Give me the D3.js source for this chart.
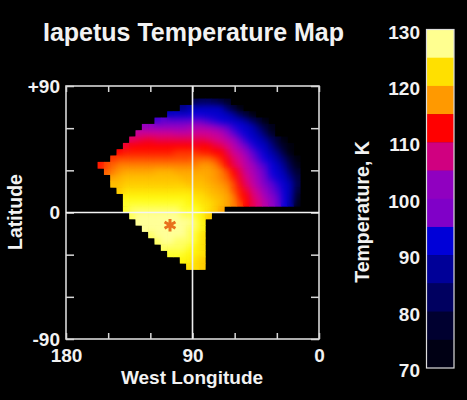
<!DOCTYPE html>
<html>
<head>
<meta charset="utf-8">
<style>
	html, body { margin: 0; background: #000; }
	svg { display: block; }
	text { font-family: "Liberation Sans", Arial, sans-serif; font-weight: bold; fill: #f2f2f2; }
</style>
<script src="https://cdn.jsdelivr.net/npm/d3@7/dist/d3.min.js"></script>
</head>
<body>
<script>
/*=================================
	DATA
**===============================*/

var title = "Iapetus Temperature Map";
var lonTicks = [180, 150, 120, 90, 60, 30, 0];
var lonLabels = [180, 90, 0];
var latTicks = [90, 60, 30, 0, -30, -60, -90];
var latLabels = [90, 0, -90];
var tempTicks = [130, 120, 110, 100, 90, 80, 70];

//Star marker
var starLon = [106];
var starLat = [-9];

//Colour bar, one band per 5 K
var bandLow = [125, 120, 115, 110, 105, 100, 95, 90, 85, 80, 75, 70];
var bandColors = ["#ffff90", "#ffe000", "#ff9900", "#ff0000", "#d00080", "#9000c0", "#8000c8", "#0000d8", "#000098", "#000060", "#000030", "#000014"];

//Map colours (smooth, same palette)
var mapStops = [71, 75, 80, 85, 90, 95, 98, 102.5, 107.5, 113, 119, 123, 125.5, 128];
var mapColors = ["#000000", "#000030", "#000058", "#000088", "#0000c0", "#0c00dc", "#6000d0", "#9c00c0", "#d40090", "#ff0000", "#ff9900", "#ffcc00", "#ffff10", "#ffff98"];

//Grid cells are 4.5 deg. Each row: its top latitude, the west longitude of its first cell, then temperatures going east
var cellDeg = 4.5;
var rowTopLat = [81, 76.5, 72, 67.5, 63, 58.5, 54, 49.5, 45, 40.5, 36, 31.5, 27, 22.5, 18, 13.5, 9, 4.5, 0, -4.5, -9, -13.5, -18, -22.5, -27, -31.5, -36];
var rowFirstLon = [90, 99, 108, 117, 126, 130.5, 135, 139.5, 144, 148.5, 157.5, 153, 148.5, 148.5, 144, 139.5, 139.5, 139.5, 135, 130.5, 126, 121.5, 117, 112.5, 108, 99, 94.5];
var rowTemps = [
	[78, 80, 80, 78, 76, 74],
	[85, 88, 90, 91, 91, 91, 90, 82, 75, 72],
	[90, 91, 92, 93, 95, 94, 93, 92, 91, 90, 87, 80, 75, 72],
	[97, 98, 98, 98, 98, 98, 99, 98, 97, 96, 95, 93, 91, 90, 87, 81, 75, 72],
	[102, 102, 102, 102, 102, 102, 102, 103, 104, 104, 103, 102, 100, 98, 96, 94, 92, 89, 83, 77, 73],
	[106, 107, 107, 107, 107, 107, 106, 106, 106, 107, 107, 107, 106, 105, 102, 98, 96, 93, 90, 87, 81, 74],
	[109, 110, 111, 111, 110, 110, 110, 110, 110, 110, 110, 110, 109, 108, 107, 105, 103, 99, 96, 93, 90, 87, 81, 75, 72],
	[111, 113, 113, 113, 113, 113, 113, 113, 113, 113, 113, 112, 113, 113, 111, 110, 108, 105, 102, 99, 96, 92, 90, 85, 78, 74, 72],
	[113, 114, 114, 114, 114, 114, 114, 114, 114, 115, 115, 115, 115, 114, 114, 113, 113, 110, 107, 105, 102, 98, 96, 92, 88, 84, 76, 72],
	[115, 116, 116, 116, 116, 116, 116, 116, 116, 116, 116, 116, 116, 117, 117, 117, 116, 114, 112, 109, 107, 104, 100, 97, 95, 91, 87, 82, 75, 72],
	[114, 116, 117, 118, 118, 118, 118, 118, 118, 118, 118, 118, 118, 118, 118, 118, 119, 119, 118, 116, 113, 110, 108, 105, 103, 99, 97, 94, 90, 85, 78, 73],
	[117, 118, 119, 120, 120, 120, 120, 120, 121, 121, 121, 120, 120, 120, 120, 120, 120, 119, 118, 116, 113, 110, 106, 104, 101, 98, 95, 92, 88, 81, 75],
	[120, 121, 122, 122, 122, 122, 122, 122, 122, 122, 122, 121, 121, 121, 121, 120, 119, 118, 117, 114, 111, 108, 105, 102, 99, 96, 93, 90, 85, 77],
	[122, 122, 123, 123, 123, 123, 123, 123, 123, 123, 123, 123, 122, 122, 122, 121, 120, 119, 118, 116, 112, 109, 106, 103, 100, 98, 96, 92, 89, 78],
	[123, 124, 124, 124, 124, 124, 124, 124, 124, 124, 124, 124, 123, 123, 122, 121, 120, 119, 116, 114, 111, 108, 105, 102, 99, 97, 93, 89, 76],
	[125, 125, 125, 125, 125, 125, 125, 125, 125, 125, 125, 124, 124, 123, 122, 121, 120, 118, 114, 113, 109, 107, 103, 101, 98, 94, 89, 74],
	[126, 126, 126, 126, 126, 126, 126, 126, 126, 126, 125, 125, 124, 124, 123, 122, 120, 118, 116, 113, 110, 108, 105, 102, 99, 95, 88, 73],
	[126, 127, 127, 127, 127, 127, 127, 127, 127, 126, 126, 126, 125, 124, 123, 120],
	[127, 128, 128, 128, 128, 128, 128, 128, 127, 127, 126, 125, 123],
	[128, 128, 128, 128, 128, 128, 128, 128, 128, 127, 125],
	[128, 128, 128, 128, 128, 128, 128, 127, 127, 125],
	[127, 128, 128, 128, 128, 128, 127, 126, 124],
	[127, 128, 128, 127, 127, 127, 126, 124],
	[127, 127, 127, 127, 126, 125, 124],
	[126, 126, 126, 125, 125, 124],
	[125, 125, 124, 123],
	[124, 124, 123]
];

/*=================================
	SCALES
**===============================*/

var svg = d3.select("body").append("svg").attr("width", 467).attr("height", 400);

var x = d3.scaleLinear().domain([180, 0]).range([66, 319]);
var y = d3.scaleLinear().domain([90, -90]).range([86, 339]);
var barY = d3.scaleLinear().domain([130, 70]).range([29.5, 368]);
var mapColor = d3.scaleLinear().domain(mapStops).range(mapColors).clamp(true);

/*=================================
	TEMPERATURE MAP
**===============================*/

var cells = [];
rowTemps.forEach(function(temps, r) {
	temps.forEach(function(t, c) {
		cells.push({lon: rowFirstLon[r] - c * cellDeg, lat: rowTopLat[r], t: t});
	});
});

var defs = svg.append("defs");
var blur = defs.append("filter").attr("id", "soft")
	.attr("x", "-5%").attr("y", "-5%").attr("width", "110%").attr("height", "110%")
	.attr("color-interpolation-filters", "sRGB");
blur.append("feGaussianBlur").attr("stdDeviation", 3.2);

function drawCells(sel) {
	sel.selectAll("rect").data(cells).enter().append("rect")
		.attr("x", function(d) { return x(d.lon); })
		.attr("y", function(d) { return y(d.lat); })
		.attr("width", x(180 - cellDeg) - x(180) + 0.4)
		.attr("height", y(90 - cellDeg) - y(90) + 0.4)
		.attr("fill", function(d) { return mapColor(d.t); });
}

//Sharp cells give the stepped edge, the blurred copy smooths the inside
drawCells(defs.append("clipPath").attr("id", "mapClip"));
drawCells(svg.append("g"));
drawCells(svg.append("g").attr("clip-path", "url(#mapClip)").append("g").attr("filter", "url(#soft)"));

/*=================================
	AXES
**===============================*/

var lineColor = "#d8d8d8";

function styleAxis(g) {
	g.select(".domain").remove();
	g.selectAll("line").attr("stroke", lineColor).attr("stroke-width", 1.5);
	g.selectAll("text").attr("font-size", 19).attr("fill", "#f2f2f2");
}

var bottomAxis = d3.axisBottom(x).tickValues(lonTicks).tickSize(-6).tickPadding(9.5)
	.tickFormat(function(d) { return lonLabels.indexOf(d) >= 0 ? d : ""; });
svg.append("g").attr("transform", "translate(0,339)").call(bottomAxis).call(styleAxis);

var topAxis = d3.axisTop(x).tickValues(lonTicks).tickSize(-6).tickFormat("");
svg.append("g").attr("transform", "translate(0,86)").call(topAxis).call(styleAxis);

var leftAxis = d3.axisLeft(y).tickValues(latTicks).tickSize(-8).tickPadding(6)
	.tickFormat(function(d) {
		if (latLabels.indexOf(d) < 0) {return "";}
		return d > 0 ? "+" + d : d;
	});
svg.append("g").attr("transform", "translate(66,0)").call(leftAxis).call(styleAxis);

var rightAxis = d3.axisRight(y).tickValues(latTicks).tickSize(-8).tickFormat("");
svg.append("g").attr("transform", "translate(319,0)").call(rightAxis).call(styleAxis);

//Box and the two centre lines
svg.append("rect")
	.attr("x", x(180)).attr("y", y(90))
	.attr("width", x(0) - x(180)).attr("height", y(-90) - y(90))
	.attr("fill", "none").attr("stroke", lineColor).attr("stroke-width", 1.6);
svg.append("line")
	.attr("x1", x(90)).attr("x2", x(90)).attr("y1", y(90)).attr("y2", y(-90))
	.attr("stroke", "#eeeeee").attr("stroke-width", 1.6);
svg.append("line")
	.attr("x1", x(180)).attr("x2", x(0)).attr("y1", y(0)).attr("y2", y(0))
	.attr("stroke", "#f4f4f4").attr("stroke-width", 1.6);

//Star
svg.selectAll(".star").data(starLon).enter().append("path")
	.attr("class", "star")
	.attr("transform", function(d, i) { return "translate(" + x(d) + "," + y(starLat[i]) + ")"; })
	.attr("d", d3.symbol().type(d3.symbolAsterisk).size(110))
	.attr("fill", "none").attr("stroke", "#e8701c").attr("stroke-width", 3);

/*=================================
	COLOUR BAR
**===============================*/

svg.append("g").selectAll("rect").data(bandLow).enter().append("rect")
	.attr("x", 426.5)
	.attr("y", function(d) { return barY(d + 5); })
	.attr("width", 27.5)
	.attr("height", function(d) { return barY(d) - barY(d + 5) + 0.4; })
	.attr("fill", function(d, i) { return bandColors[i]; });

svg.append("rect")
	.attr("x", 426.5).attr("y", barY(130))
	.attr("width", 27.5).attr("height", barY(70) - barY(130))
	.attr("fill", "none").attr("stroke", "#dddddd").attr("stroke-width", 1.2);

var barAxis = d3.axisLeft(barY).tickValues(tempTicks).tickSize(0).tickPadding(6);
//Labels sit a little under their band edges in the reference
svg.append("g").attr("transform", "translate(426,2.5)").call(barAxis).call(styleAxis);

/*=================================
	TITLES
**===============================*/

svg.append("text").attr("x", 193.5).attr("y", 41).attr("text-anchor", "middle")
	.attr("font-size", 25).text(title);
svg.append("text").attr("x", 192).attr("y", 383.5).attr("text-anchor", "middle")
	.attr("font-size", 19).text("West Longitude");
svg.append("text").attr("transform", "translate(22,212) rotate(-90)").attr("text-anchor", "middle")
	.attr("font-size", 19.5).text("Latitude");
svg.append("text").attr("transform", "translate(369,212) rotate(-90)").attr("text-anchor", "middle")
	.attr("font-size", 19.5).text("Temperature, K");
</script>
</body>
</html>
